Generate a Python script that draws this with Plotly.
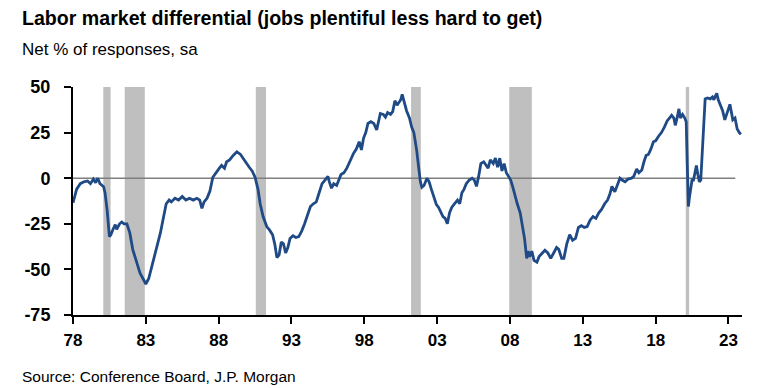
import plotly.graph_objects as go

# ---- data ----
years = [
    1978.0, 1978.25, 1978.5, 1978.75, 1979.0, 1979.2, 1979.4, 1979.55, 1979.7, 1979.85,
    1980.0, 1980.1, 1980.2, 1980.35, 1980.5, 1980.6, 1980.75, 1980.9, 1981.0, 1981.2,
    1981.35, 1981.5, 1981.7, 1981.9, 1982.1, 1982.35, 1982.6, 1982.8, 1983.0, 1983.2,
    1983.5, 1983.75, 1984.0, 1984.2, 1984.4, 1984.6, 1984.75, 1985.0, 1985.25, 1985.5,
    1985.75, 1986.0, 1986.25, 1986.5, 1986.7, 1986.85, 1987.0, 1987.2, 1987.4, 1987.6,
    1987.8, 1988.0, 1988.2, 1988.4, 1988.55, 1988.75, 1989.0, 1989.25, 1989.5, 1989.75,
    1989.9, 1990.1, 1990.3, 1990.5, 1990.7, 1990.85, 1991.05, 1991.3, 1991.5, 1991.7,
    1991.85, 1992.0, 1992.15, 1992.3, 1992.45, 1992.6, 1992.75, 1992.9, 1993.1, 1993.3,
    1993.5, 1993.7, 1993.9, 1994.1, 1994.3, 1994.5, 1994.7, 1994.9, 1995.1, 1995.3,
    1995.5, 1995.6, 1995.75, 1995.9, 1996.1, 1996.25, 1996.4, 1996.6, 1996.8, 1997.0,
    1997.25, 1997.45, 1997.65, 1997.8, 1997.95, 1998.1, 1998.25, 1998.45, 1998.65, 1998.85,
    1999.0, 1999.1, 1999.3, 1999.45, 1999.6, 1999.8, 1999.95, 2000.1, 2000.25, 2000.4,
    2000.5, 2000.6, 2000.75, 2000.9, 2001.1, 2001.25, 2001.4, 2001.5, 2001.6, 2001.7,
    2001.85, 2001.95, 2002.1, 2002.3, 2002.45, 2002.6, 2002.8, 2002.95, 2003.1, 2003.25,
    2003.4, 2003.55, 2003.7, 2003.85, 2004.0, 2004.2, 2004.4, 2004.55, 2004.7, 2004.85,
    2005.0, 2005.2, 2005.4, 2005.55, 2005.7, 2005.85, 2006.0, 2006.2, 2006.35, 2006.5,
    2006.65, 2006.85, 2007.0, 2007.15, 2007.3, 2007.45, 2007.6, 2007.75, 2007.9, 2008.05,
    2008.2, 2008.35, 2008.5, 2008.7, 2008.85, 2009.0, 2009.15, 2009.25, 2009.35, 2009.5,
    2009.65, 2009.85, 2010.0, 2010.2, 2010.4, 2010.6, 2010.8, 2011.0, 2011.2, 2011.35,
    2011.55, 2011.7, 2011.9, 2012.1, 2012.3, 2012.5, 2012.7, 2012.9, 2013.1, 2013.3,
    2013.5, 2013.7, 2013.9, 2014.1, 2014.3, 2014.5, 2014.7, 2014.85, 2015.0, 2015.2,
    2015.4, 2015.55, 2015.7, 2015.9, 2016.1, 2016.35, 2016.5, 2016.7, 2016.85, 2017.05,
    2017.2, 2017.35, 2017.5, 2017.65, 2017.85, 2018.0, 2018.2, 2018.4, 2018.6, 2018.8,
    2018.95, 2019.1, 2019.25, 2019.35, 2019.5, 2019.6, 2019.7, 2019.85, 2020.0, 2020.1,
    2020.17, 2020.25, 2020.33, 2020.42, 2020.5, 2020.6, 2020.7, 2020.8, 2020.9, 2021.0,
    2021.1, 2021.2, 2021.3, 2021.4, 2021.55, 2021.75, 2021.9, 2022.0, 2022.1, 2022.2,
    2022.3, 2022.45, 2022.6, 2022.75, 2022.85, 2023.0, 2023.1, 2023.2, 2023.3, 2023.45,
    2023.6, 2023.75, 2023.85,
]
differential = [
    -13.5, -6, -3, -2, -1.5, -3, -0.5, -2.5, 0, -3,
    -4, -4.7, -8, -18, -32, -31, -28, -25.5, -28, -25,
    -24, -25, -25, -30, -39, -45, -52, -55, -58, -55,
    -46, -38, -30, -22, -14, -12, -13, -11, -12, -10,
    -12, -11, -12, -11, -12, -16.5, -13, -11, -7, 0.5,
    3, 5, 7, 5.5, 9, 10, 12.5, 14.5, 13, 10,
    8, 6, 4, 0.5, -6, -14, -21, -26.5, -28.5, -31,
    -36, -43.5, -42, -35, -36, -41, -38, -33, -31.5, -32.5,
    -32, -29, -25, -20, -15.5, -14, -13, -8, -3, -1,
    1, -2, -5.5, -3, -4, -1, 2, 3, 5.5, 9,
    13.5, 16, 20, 15.5, 22, 25, 30, 31, 30, 26.5,
    31, 35.5, 35, 33.5, 36, 35, 36.5, 42.5, 40, 42,
    43, 46, 41, 37, 33, 28, 25, 21, 15, 8,
    -2, -5, -4, 0, -2, -6, -11, -14.5, -16, -19,
    -21, -22, -25, -19, -16, -14, -12, -14, -8, -6,
    -3, -1, 0, -1, -4.5, 1, 8, 9, 7, 5.5,
    10, 8, 11, 6, 11, 4, 8, 3, 1, -1,
    -5, -10, -14, -19, -25, -33, -44, -40, -43, -40,
    -45, -46, -43, -41, -39.5, -41, -44, -41, -38, -39,
    -44, -44, -36, -31, -34, -33, -27, -26, -27, -26.5,
    -23, -21, -22, -19, -17, -14, -12, -9, -4.5, -7.5,
    -3, 0, -1, -2, -0.5, 0, 1, 5, 3, 4.5,
    9, 12.5, 13, 15.5, 20, 20.5, 23, 25, 28, 31.5,
    33, 34.5, 33, 29, 34, 38, 33, 35, 33, 31,
    8, -15.5, -10, -4, -1, -1, 3, 7, 2, -2,
    -1, 15, 35, 43.5, 44, 43.5, 44.5, 43, 45, 46.5,
    43, 40, 37, 32, 35, 38, 40.5, 35, 32, 33,
    27, 25, 24,
]

recession_start = [1980.08, 1981.55, 1990.55, 2001.21, 2007.95, 2020.07]
recession_end = [1980.58, 1982.93, 1991.25, 2001.88, 2009.5, 2020.3]

x_tick_values = [1978, 1983, 1988, 1993, 1998, 2003, 2008, 2013, 2018, 2023]
x_tick_labels = ["78", "83", "88", "93", "98", "03", "08", "13", "18", "23"]
y_tick_values = [-75, -50, -25, 0, 25, 50]
y_tick_labels = ["-75", "-50", "-25", "0", "25", "50"]

title_text = "Labor market differential (jobs plentiful less hard to get)"
subtitle_text = "Net % of responses, sa"
source_text = "Source: Conference Board, J.P. Morgan"

FONT = "Liberation Sans, Arial, sans-serif"

# The page body has an 8px default margin; the figure is drawn 8px in.
OFF = 8
W, H = 768 - OFF, 388 - OFF
L, R, T, B = 73 - OFF, 26, 87 - OFF, 73
pw, ph = W - L - R, H - T - B


def px_x(px):
    return (px - OFF - L) / pw


def px_y(py):
    return (H - B - (py - OFF)) / ph


fig = go.Figure()

for s, e in zip(recession_start, recession_end):
    fig.add_vrect(x0=s, x1=e, fillcolor="#BFBFBF", line_width=0, layer="below")

fig.add_shape(type="line", x0=x_tick_values[0], x1=2023.47, y0=0, y1=0,
              line=dict(color="#7F7F7F", width=1.6), layer="below")

fig.add_trace(go.Scatter(
    x=years, y=differential, mode="lines",
    line=dict(color="#1F4A85", width=2.8),
    hoverinfo="skip", showlegend=False,
))

fig.update_layout(
    width=W, height=H,
    margin=dict(l=L, r=R, t=T, b=B, pad=0),
    paper_bgcolor="white", plot_bgcolor="white",
    font=dict(family=FONT, color="black"),
    showlegend=False,
    xaxis=dict(
        range=[1978, 2023.93], tickmode="array",
        tickvals=x_tick_values, ticktext=x_tick_labels,
        showgrid=False, zeroline=False,
        showline=True, linecolor="black", linewidth=2,
        ticks="outside", ticklen=7, tickwidth=2, tickcolor="black",
        tickfont=dict(family=FONT, size=17, color="black", weight="bold"),
        ticklabelstandoff=2,
    ),
    yaxis=dict(
        range=[-75, 50], tickmode="array",
        tickvals=y_tick_values, ticktext=y_tick_labels,
        showgrid=False, zeroline=False,
        showline=True, linecolor="black", linewidth=2,
        ticks="outside", ticklen=7, tickwidth=2, tickcolor="black",
        tickfont=dict(family=FONT, size=18, color="black", weight="bold"),
        ticklabelstandoff=10,
    ),
    annotations=[
        dict(text="<b>" + title_text + "</b>", xref="paper", yref="paper",
             x=px_x(20), y=px_y(5), xanchor="left", yanchor="top",
             showarrow=False, font=dict(family=FONT, size=19.6, color="black")),
        dict(text=subtitle_text, xref="paper", yref="paper",
             x=px_x(20), y=px_y(38), xanchor="left", yanchor="top",
             showarrow=False, font=dict(family=FONT, size=17, color="black")),
        dict(text=source_text, xref="paper", yref="paper",
             x=px_x(20), y=px_y(366), xanchor="left", yanchor="top",
             showarrow=False, font=dict(family=FONT, size=15.5, color="black")),
    ],
)

fig.write_html("out.html")
